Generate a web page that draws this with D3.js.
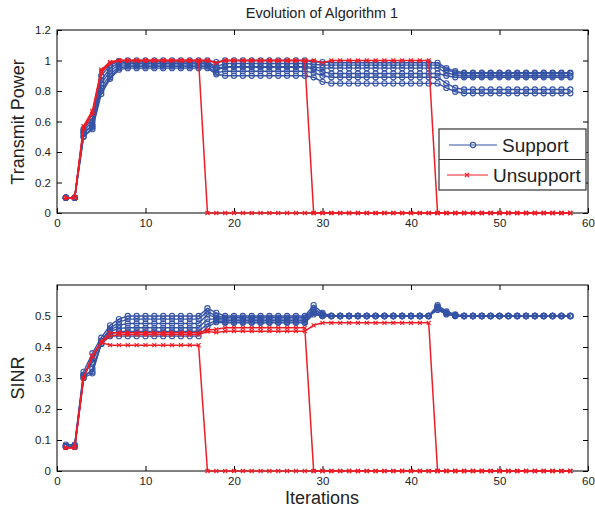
<!DOCTYPE html>
<html><head><meta charset="utf-8">
<script src="https://cdn.jsdelivr.net/npm/d3@7"></script>
<style>
body{margin:0;background:#fff;}
text{font-family:"Liberation Sans",Arial,sans-serif;fill:#222;}
</style></head>
<body><svg id="chart" width="595" height="516"></svg>
<script>
// ---------- DATA ----------
const iterations = [1,2,3,4,5,6,7,8,9,10,11,12,13,14,15,16,17,18,19,20,21,22,23,24,25,26,27,28,29,30,31,32,33,34,35,36,37,38,39,40,41,42,43,44,45,46,47,48,49,50,51,52,53,54,55,56,57,58];
const xTicks = [0,10,20,30,40,50,60];
const powerTicks = [0,0.2,0.4,0.6,0.8,1,1.2];
const sinrTicks = [0,0.1,0.2,0.3,0.4,0.5];
const legendLabels = ["Support","Unsupport"];

// Transmit power - supported users (blue)
const powerSupport1 = [0.1,0.1,0.55,0.62,0.9,0.97,0.995,1,1,1,1,1,1,1,1,1,1,0.99,1,1,1,1,1,1,1,1,1,1,0.99,0.99,0.985,0.985,0.985,0.985,0.985,0.985,0.985,0.985,0.985,0.985,0.985,0.985,0.985,0.95,0.93,0.92,0.92,0.92,0.92,0.92,0.92,0.92,0.92,0.92,0.92,0.92,0.92,0.92];
const powerSupport2 = [0.1,0.1,0.54,0.6,0.87,0.95,0.985,0.99,0.99,0.99,0.99,0.99,0.99,0.99,0.99,0.99,0.99,0.96,0.98,0.98,0.98,0.98,0.98,0.98,0.98,0.98,0.98,0.98,0.975,0.97,0.97,0.97,0.97,0.97,0.97,0.97,0.97,0.97,0.97,0.97,0.97,0.97,0.97,0.94,0.92,0.915,0.915,0.915,0.915,0.915,0.915,0.915,0.915,0.915,0.915,0.915,0.915,0.915];
const powerSupport3 = [0.1,0.1,0.52,0.58,0.85,0.93,0.975,0.98,0.98,0.98,0.98,0.98,0.98,0.98,0.98,0.98,0.98,0.95,0.96,0.96,0.96,0.96,0.96,0.96,0.96,0.96,0.96,0.96,0.955,0.95,0.95,0.95,0.95,0.95,0.95,0.95,0.95,0.95,0.95,0.95,0.95,0.95,0.95,0.92,0.905,0.9,0.9,0.9,0.9,0.9,0.9,0.9,0.9,0.9,0.9,0.9,0.9,0.9];
const powerSupport4 = [0.1,0.1,0.53,0.57,0.82,0.91,0.96,0.97,0.97,0.97,0.97,0.97,0.97,0.97,0.97,0.97,0.97,0.94,0.955,0.955,0.955,0.955,0.955,0.955,0.955,0.955,0.955,0.955,0.945,0.925,0.915,0.915,0.915,0.915,0.915,0.915,0.915,0.915,0.915,0.915,0.915,0.915,0.915,0.9,0.89,0.89,0.89,0.89,0.89,0.89,0.89,0.89,0.89,0.89,0.89,0.89,0.89,0.89];
const powerSupport5 = [0.1,0.1,0.5,0.56,0.8,0.89,0.95,0.96,0.96,0.96,0.96,0.96,0.96,0.96,0.96,0.96,0.96,0.92,0.93,0.93,0.93,0.93,0.93,0.93,0.93,0.93,0.93,0.93,0.92,0.9,0.89,0.89,0.89,0.89,0.89,0.89,0.89,0.89,0.89,0.89,0.89,0.89,0.89,0.85,0.82,0.81,0.81,0.81,0.81,0.81,0.81,0.81,0.81,0.81,0.81,0.81,0.81,0.81];
const powerSupport6 = [0.1,0.1,0.5,0.55,0.78,0.88,0.94,0.95,0.95,0.95,0.95,0.95,0.95,0.95,0.95,0.95,0.95,0.91,0.9,0.9,0.9,0.9,0.9,0.9,0.9,0.9,0.9,0.9,0.89,0.86,0.85,0.85,0.85,0.85,0.85,0.85,0.85,0.85,0.85,0.85,0.85,0.85,0.85,0.82,0.795,0.785,0.785,0.785,0.785,0.785,0.785,0.785,0.785,0.785,0.785,0.785,0.785,0.785];
// Transmit power - unsupported users (red)
const powerUnsupport1 = [0.1,0.1,0.57,0.67,0.94,0.99,1,1,1,1,1,1,1,1,1,1,0,0,0,0,0,0,0,0,0,0,0,0,0,0,0,0,0,0,0,0,0,0,0,0,0,0,0,0,0,0,0,0,0,0,0,0,0,0,0,0,0,0];
const powerUnsupport2 = [0.1,0.1,0.56,0.66,0.93,0.99,1,1,1,1,1,1,1,1,1,1,1,0.985,1,1,1,1,1,1,1,1,1,1,0,0,0,0,0,0,0,0,0,0,0,0,0,0,0,0,0,0,0,0,0,0,0,0,0,0,0,0,0,0];
const powerUnsupport3 = [0.1,0.1,0.55,0.65,0.92,0.98,1,1,1,1,1,1,1,1,1,1,1,0.985,1,1,1,1,1,1,1,1,1,1,1,0.985,1,1,1,1,1,1,1,1,1,1,1,1,0,0,0,0,0,0,0,0,0,0,0,0,0,0,0,0];

// SINR - supported users (blue)
const sinrSupport1 = [0.085,0.085,0.32,0.38,0.43,0.47,0.49,0.5,0.5,0.5,0.5,0.5,0.5,0.5,0.5,0.5,0.525,0.51,0.5,0.5,0.5,0.5,0.5,0.5,0.5,0.5,0.5,0.5,0.535,0.51,0.5,0.5,0.5,0.5,0.5,0.5,0.5,0.5,0.5,0.5,0.5,0.5,0.535,0.515,0.505,0.5,0.5,0.5,0.5,0.5,0.5,0.5,0.5,0.5,0.5,0.5,0.5,0.5];
const sinrSupport2 = [0.08,0.08,0.31,0.36,0.42,0.46,0.48,0.49,0.49,0.49,0.49,0.49,0.49,0.49,0.49,0.49,0.515,0.5,0.495,0.495,0.495,0.495,0.495,0.495,0.495,0.495,0.495,0.495,0.525,0.505,0.5,0.5,0.5,0.5,0.5,0.5,0.5,0.5,0.5,0.5,0.5,0.5,0.53,0.512,0.503,0.5,0.5,0.5,0.5,0.5,0.5,0.5,0.5,0.5,0.5,0.5,0.5,0.5];
const sinrSupport3 = [0.08,0.08,0.31,0.35,0.42,0.455,0.47,0.476,0.476,0.476,0.476,0.476,0.476,0.476,0.476,0.476,0.505,0.495,0.49,0.49,0.49,0.49,0.49,0.49,0.49,0.49,0.49,0.49,0.52,0.505,0.5,0.5,0.5,0.5,0.5,0.5,0.5,0.5,0.5,0.5,0.5,0.5,0.53,0.51,0.502,0.5,0.5,0.5,0.5,0.5,0.5,0.5,0.5,0.5,0.5,0.5,0.5,0.5];
const sinrSupport4 = [0.08,0.08,0.3,0.33,0.41,0.45,0.46,0.462,0.462,0.462,0.462,0.462,0.462,0.462,0.462,0.462,0.49,0.49,0.485,0.485,0.485,0.485,0.485,0.485,0.485,0.485,0.485,0.485,0.515,0.5,0.5,0.5,0.5,0.5,0.5,0.5,0.5,0.5,0.5,0.5,0.5,0.5,0.525,0.51,0.502,0.5,0.5,0.5,0.5,0.5,0.5,0.5,0.5,0.5,0.5,0.5,0.5,0.5];
const sinrSupport5 = [0.078,0.078,0.31,0.32,0.41,0.44,0.45,0.45,0.45,0.45,0.45,0.45,0.45,0.45,0.45,0.45,0.475,0.485,0.48,0.48,0.48,0.48,0.48,0.48,0.48,0.48,0.48,0.48,0.51,0.5,0.5,0.5,0.5,0.5,0.5,0.5,0.5,0.5,0.5,0.5,0.5,0.5,0.52,0.508,0.5,0.5,0.5,0.5,0.5,0.5,0.5,0.5,0.5,0.5,0.5,0.5,0.5,0.5];
const sinrSupport6 = [0.078,0.078,0.3,0.315,0.41,0.435,0.435,0.435,0.435,0.435,0.435,0.435,0.435,0.435,0.435,0.435,0.465,0.48,0.478,0.478,0.478,0.478,0.478,0.478,0.478,0.478,0.478,0.478,0.505,0.5,0.5,0.5,0.5,0.5,0.5,0.5,0.5,0.5,0.5,0.5,0.5,0.5,0.52,0.505,0.5,0.5,0.5,0.5,0.5,0.5,0.5,0.5,0.5,0.5,0.5,0.5,0.5,0.5];
// SINR - unsupported users (red)
const sinrUnsupport1 = [0.075,0.075,0.3,0.37,0.415,0.406,0.406,0.406,0.406,0.406,0.406,0.406,0.406,0.406,0.406,0.406,0,0,0,0,0,0,0,0,0,0,0,0,0,0,0,0,0,0,0,0,0,0,0,0,0,0,0,0,0,0,0,0,0,0,0,0,0,0,0,0,0,0];
const sinrUnsupport2 = [0.075,0.075,0.3,0.372,0.417,0.446,0.446,0.446,0.446,0.446,0.446,0.446,0.446,0.446,0.446,0.446,0.455,0.457,0.462,0.462,0.462,0.462,0.462,0.462,0.462,0.462,0.462,0.462,0,0,0,0,0,0,0,0,0,0,0,0,0,0,0,0,0,0,0,0,0,0,0,0,0,0,0,0,0,0];
const sinrUnsupport3 = [0.075,0.075,0.3,0.37,0.415,0.435,0.44,0.44,0.44,0.44,0.44,0.44,0.44,0.44,0.44,0.44,0.45,0.447,0.451,0.451,0.451,0.451,0.451,0.451,0.451,0.451,0.451,0.451,0.47,0.478,0.478,0.478,0.478,0.478,0.478,0.478,0.478,0.478,0.478,0.478,0.478,0.478,0,0,0,0,0,0,0,0,0,0,0,0,0,0,0,0];

const powerSupport = [powerSupport1,powerSupport2,powerSupport3,powerSupport4,powerSupport5,powerSupport6];
const powerUnsupport = [powerUnsupport1,powerUnsupport2,powerUnsupport3];
const sinrSupport = [sinrSupport1,sinrSupport2,sinrSupport3,sinrSupport4,sinrSupport5,sinrSupport6];
const sinrUnsupport = [sinrUnsupport1,sinrUnsupport2,sinrUnsupport3];

// ---------- DRAW ----------
const BLUE = "#3553a5", RED = "#ee1d26";
const svg = d3.select("#chart");
const X0 = 57, X1 = 588;

function panel(top, bottom, yDomain, yTicks, yFmt, support, unsupport) {
  const x = d3.scaleLinear().domain([0,60]).range([X0,X1]);
  const y = d3.scaleLinear().domain(yDomain).range([bottom,top]);
  const g = svg.append("g");
  g.append("rect").attr("x",X0).attr("y",top).attr("width",X1-X0).attr("height",bottom-top)
    .attr("fill","none").attr("stroke","#000").attr("stroke-width",1);
  const ax = (sel)=>sel.selectAll(".domain").remove();
  const bx = g.append("g").attr("transform",`translate(0,${bottom})`)
    .call(d3.axisBottom(x).tickValues(xTicks).tickSizeInner(-5).tickSizeOuter(0).tickPadding(6).tickFormat(d3.format("d")));
  ax(bx);
  const tx = g.append("g").attr("transform",`translate(0,${top})`)
    .call(d3.axisTop(x).tickValues(xTicks).tickSizeInner(-5).tickSizeOuter(0).tickFormat(""));
  ax(tx);
  const ly = g.append("g").attr("transform",`translate(${X0},0)`)
    .call(d3.axisLeft(y).tickValues(yTicks).tickSizeInner(-5).tickSizeOuter(0).tickPadding(6).tickFormat(yFmt));
  ax(ly);
  const ry = g.append("g").attr("transform",`translate(${X1},0)`)
    .call(d3.axisRight(y).tickValues(yTicks).tickSizeInner(-5).tickSizeOuter(0).tickFormat(""));
  ax(ry);
  g.selectAll(".tick line").attr("stroke","#000");
  g.selectAll(".tick text").style("font-size","11.5px").style("font-family","'Liberation Sans',Arial,sans-serif").attr("fill","#222");

  const line = d3.line().x((d,i)=>x(iterations[i])).y(d=>y(d));
  support.forEach(s=>{
    g.append("path").datum(s).attr("d",line).attr("fill","none").attr("stroke",BLUE).attr("stroke-width",1.4);
    g.selectAll(null).data(s).enter().append("circle")
      .attr("cx",(d,i)=>x(iterations[i])).attr("cy",d=>y(d)).attr("r",2.6)
      .attr("fill","none").attr("stroke",BLUE).attr("stroke-width",1.1);
  });
  unsupport.forEach(s=>{
    g.append("path").datum(s).attr("d",line).attr("fill","none").attr("stroke",RED).attr("stroke-width",1.5);
    g.selectAll(null).data(s).enter().append("path")
      .attr("transform",(d,i)=>`translate(${x(iterations[i])},${y(d)})`)
      .attr("d","M-2,-2L2,2M-2,2L2,-2").attr("stroke",RED).attr("stroke-width",1.1);
  });
  return {x,y};
}

panel(30,213,[0,1.2],powerTicks,d=>d3.format("~g")(d),powerSupport,powerUnsupport);
panel(285,471,[0,0.6],sinrTicks,d=>d3.format("~g")(d),sinrSupport,sinrUnsupport);

// titles
svg.append("text").attr("x",322).attr("y",18).attr("text-anchor","middle").style("font-size","14.5px").text("Evolution of Algorithm 1");
svg.append("text").attr("transform","translate(24,122) rotate(-90)").attr("text-anchor","middle").style("font-size","18px").text("Transmit Power");
svg.append("text").attr("transform","translate(24,378) rotate(-90)").attr("text-anchor","middle").style("font-size","18px").text("SINR");
svg.append("text").attr("x",322).attr("y",504).attr("text-anchor","middle").style("font-size","18px").text("Iterations");

// legend
const lg = svg.append("g");
lg.append("rect").attr("x",439).attr("y",129).attr("width",147).attr("height",61).attr("fill","#fff").attr("stroke","#333").attr("stroke-width",1.2);
lg.append("line").attr("x1",439).attr("x2",586).attr("y1",159.5).attr("y2",159.5).attr("stroke","#333").attr("stroke-width",1.2);
lg.append("line").attr("x1",449).attr("x2",497).attr("y1",145).attr("y2",145).attr("stroke",BLUE).attr("stroke-width",1.2);
lg.append("circle").attr("cx",473).attr("cy",145).attr("r",2.6).attr("fill","none").attr("stroke",BLUE).attr("stroke-width",1.1);
lg.append("text").attr("x",502).attr("y",152).style("font-size","19px").text(legendLabels[0]);
lg.append("line").attr("x1",447).attr("x2",488).attr("y1",175).attr("y2",175).attr("stroke",RED).attr("stroke-width",1.2);
lg.append("path").attr("transform","translate(467,175)").attr("d","M-2,-2L2,2M-2,2L2,-2").attr("stroke",RED).attr("stroke-width",1.1);
lg.append("text").attr("x",493).attr("y",182).style("font-size","19px").text(legendLabels[1]);
</script></body></html>
